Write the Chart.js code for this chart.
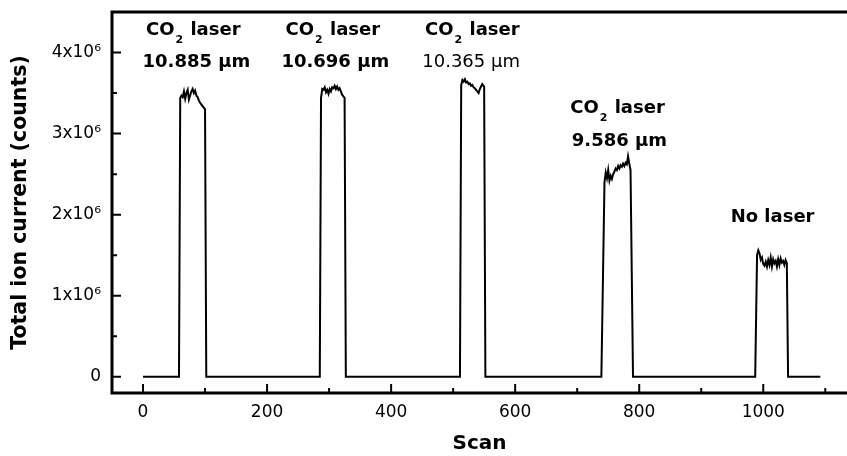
<!DOCTYPE html>
<html lang="en">
<head>
<meta charset="UTF-8">
<title>Total ion current vs scan</title>
<script src="https://cdn.jsdelivr.net/npm/chart.js"></script>
<style>
  html, body { margin: 0; padding: 0; background: #fff; }
  .chart-container { position: relative; width: 847px; height: 456px; }
</style>
</head>
<body>
<div class="chart-container"><canvas id="ticChart"></canvas></div>
<script>
    // Trace: scan number and total ion current (counts)
    const scan = [
        0, 58, 60, 62, 64, 66, 68, 70, 72, 74, 76, 78, 80, 82, 84, 86, 88, 90, 92, 94, 96, 98, 100, 102,
        285, 287, 289, 291, 293, 295, 297, 299, 301, 303, 305, 307, 309, 311, 313, 315, 317, 319, 321, 323, 325, 327,
        511, 513, 515, 517, 519, 521, 523, 525, 527, 529, 531, 533, 535, 537, 539, 541, 543, 545, 547, 550, 552,
        739, 744, 746, 748, 750, 752, 754, 756, 758, 760, 762, 764, 766, 768, 770, 772, 774, 776, 778, 780, 782, 784, 786, 790,
        987, 990, 992, 994, 996, 998, 1000, 1002, 1004, 1006, 1008, 1010, 1012, 1014, 1016, 1018, 1020, 1022, 1024, 1026, 1028, 1030, 1032, 1034, 1036, 1038, 1040,
        1092
    ];
    const counts = [
        0, 0, 3.44e6, 3.47e6, 3.45e6, 3.52e6, 3.43e6, 3.50e6, 3.54e6, 3.42e6, 3.47e6, 3.52e6, 3.55e6, 3.50e6, 3.53e6, 3.47e6, 3.45e6, 3.41e6, 3.38e6, 3.36e6, 3.34e6, 3.32e6, 3.30e6, 0,
        0, 3.44e6, 3.55e6, 3.54e6, 3.57e6, 3.51e6, 3.54e6, 3.49e6, 3.55e6, 3.52e6, 3.57e6, 3.56e6, 3.59e6, 3.55e6, 3.58e6, 3.54e6, 3.56e6, 3.52e6, 3.48e6, 3.46e6, 3.44e6, 0,
        0, 3.60e6, 3.66e6, 3.64e6, 3.67e6, 3.63e6, 3.64e6, 3.61e6, 3.62e6, 3.59e6, 3.60e6, 3.57e6, 3.56e6, 3.54e6, 3.52e6, 3.50e6, 3.55e6, 3.58e6, 3.61e6, 3.58e6, 0,
        0, 2.40e6, 2.52e6, 2.45e6, 2.55e6, 2.42e6, 2.48e6, 2.44e6, 2.50e6, 2.53e6, 2.57e6, 2.55e6, 2.60e6, 2.57e6, 2.61e6, 2.59e6, 2.63e6, 2.60e6, 2.64e6, 2.62e6, 2.72e6, 2.63e6, 2.55e6, 0,
        0, 1.50e6, 1.56e6, 1.52e6, 1.44e6, 1.47e6, 1.39e6, 1.37e6, 1.42e6, 1.36e6, 1.44e6, 1.38e6, 1.47e6, 1.36e6, 1.45e6, 1.40e6, 1.43e6, 1.36e6, 1.45e6, 1.38e6, 1.46e6, 1.41e6, 1.43e6, 1.38e6, 1.44e6, 1.40e6, 0,
        0
    ];

    // major tick values
    const xTicks = [0, 200, 400, 600, 800, 1000];
    const yTicks = [0, 1e6, 2e6, 3e6, 4e6];

    // Annotations (anchored in data units: centre x, text baseline y)
    const noteText = ['CO₂ laser', '10.885 μm', 'CO₂ laser', '10.696 μm', 'CO₂ laser', '10.365 μm', 'CO₂ laser', '9.586 μm', 'No laser'];
    const noteX = [81, 86, 306, 310, 531, 529, 765, 768, 1015];
    const noteY = [4.22e6, 3.82e6, 4.22e6, 3.82e6, 4.22e6, 3.82e6, 3.25e6, 2.85e6, 1.91e6];
    const noteBold = [true, true, true, true, true, false, true, true, true];

    const FONT = '"DejaVu Sans", sans-serif';

    function drawNote(ctx, text, cx, cy, bold) {
        const w = bold ? 'bold ' : '';
        const main = w + '18px ' + FONT;
        const sub = w + '11px ' + FONT;
        const parts = text.split('₂');
        ctx.font = main;
        let total = ctx.measureText(parts[0]).width;
        let subW = 0, restW = 0;
        if (parts.length > 1) {
            ctx.font = sub;
            subW = ctx.measureText('2').width + 2;
            ctx.font = main;
            restW = ctx.measureText(parts[1]).width;
            total += subW + restW;
        }
        let x = cx - total / 2;
        ctx.textAlign = 'left';
        ctx.textBaseline = 'alphabetic';
        ctx.fillStyle = '#000';
        ctx.font = main;
        ctx.fillText(parts[0], x, cy);
        if (parts.length > 1) {
            x += ctx.measureText(parts[0]).width;
            ctx.font = sub;
            ctx.fillText('2', x + 1, cy + 8);
            ctx.font = main;
            ctx.fillText(parts[1], x + subW, cy);
        }
    }

    // axis frame + inward major/minor ticks, then the text notes
    const framePlugin = {
        id: 'frame',
        afterDraw(chart) {
            const { ctx, chartArea: a, scales: { x, y } } = chart;
            ctx.save();
            ctx.strokeStyle = '#000';
            ctx.lineCap = 'square';
            ctx.lineWidth = 3;
            ctx.beginPath();
            ctx.moveTo(a.right + 2, a.top); ctx.lineTo(a.left, a.top);
            ctx.lineTo(a.left, a.bottom); ctx.lineTo(a.right + 2, a.bottom);
            ctx.stroke();

            ctx.lineWidth = 2;
            ctx.lineCap = 'butt';
            const xMajor = x.ticks.map(t => t.value);
            const yMajor = y.ticks.map(t => t.value);
            ctx.beginPath();
            for (let v = 0; v < x.max; v += 100) {
                const len = xMajor.includes(v) ? 9 : 5;
                const px = x.getPixelForValue(v);
                ctx.moveTo(px, a.bottom); ctx.lineTo(px, a.bottom - len);
            }
            for (let v = 0; v < y.max; v += 0.5e6) {
                const len = yMajor.includes(v) ? 9 : 5;
                const py = y.getPixelForValue(v);
                ctx.moveTo(a.left, py); ctx.lineTo(a.left + len, py);
            }
            ctx.stroke();

            noteText.forEach((t, i) => {
                drawNote(ctx, t, x.getPixelForValue(noteX[i]), y.getPixelForValue(noteY[i]), noteBold[i]);
            });
            ctx.restore();
        }
    };

    new Chart(document.getElementById('ticChart'), {
        type: 'line',
        data: {
            datasets: [{
                data: scan.map((s, i) => ({ x: s, y: counts[i] })),
                borderColor: '#000',
                borderWidth: 2,
                pointRadius: 0,
                tension: 0,
                fill: false
            }]
        },
        options: {
            responsive: true,
            maintainAspectRatio: false,
            animation: false,
            layout: { padding: { top: 12, right: 0, left: 0, bottom: 0 } },
            plugins: { legend: { display: false }, tooltip: { enabled: false } },
            scales: {
                x: {
                    type: 'linear',
                    min: -50,
                    max: 1135,
                    afterBuildTicks: s => { s.ticks = xTicks.map(v => ({ value: v })); },
                    afterFit: s => { s.height = 63; s.paddingLeft = 0; s.paddingRight = 0; },
                    grid: { display: false, drawTicks: false },
                    border: { display: false },
                    ticks: {
                        padding: 9,
                        color: '#000',
                        font: { family: FONT, size: 17 },
                        callback: v => String(v)
                    },
                    title: {
                        display: true,
                        text: 'Scan',
                        color: '#000',
                        font: { family: FONT, size: 20, weight: 'bold' },
                        padding: { top: 0, bottom: 0 }
                    }
                },
                y: {
                    min: -0.2e6,
                    max: 4.5e6,
                    afterBuildTicks: s => { s.ticks = yTicks.map(v => ({ value: v })); },
                    afterFit: s => { s.width = 112; s.paddingTop = 0; s.paddingBottom = 0; },
                    grid: { display: false, drawTicks: false },
                    border: { display: false },
                    ticks: {
                        padding: 11,
                        color: '#000',
                        font: { family: FONT, size: 17 },
                        callback: v => v === 0 ? '0' : (v / 1e6) + 'x10⁶'
                    },
                    title: {
                        display: true,
                        text: 'Total ion current (counts)',
                        color: '#000',
                        font: { family: FONT, size: 20.5, weight: 'bold' },
                        padding: { top: 8, bottom: 0 }
                    }
                }
            }
        },
        plugins: [framePlugin]
    });
</script>
</body>
</html>
